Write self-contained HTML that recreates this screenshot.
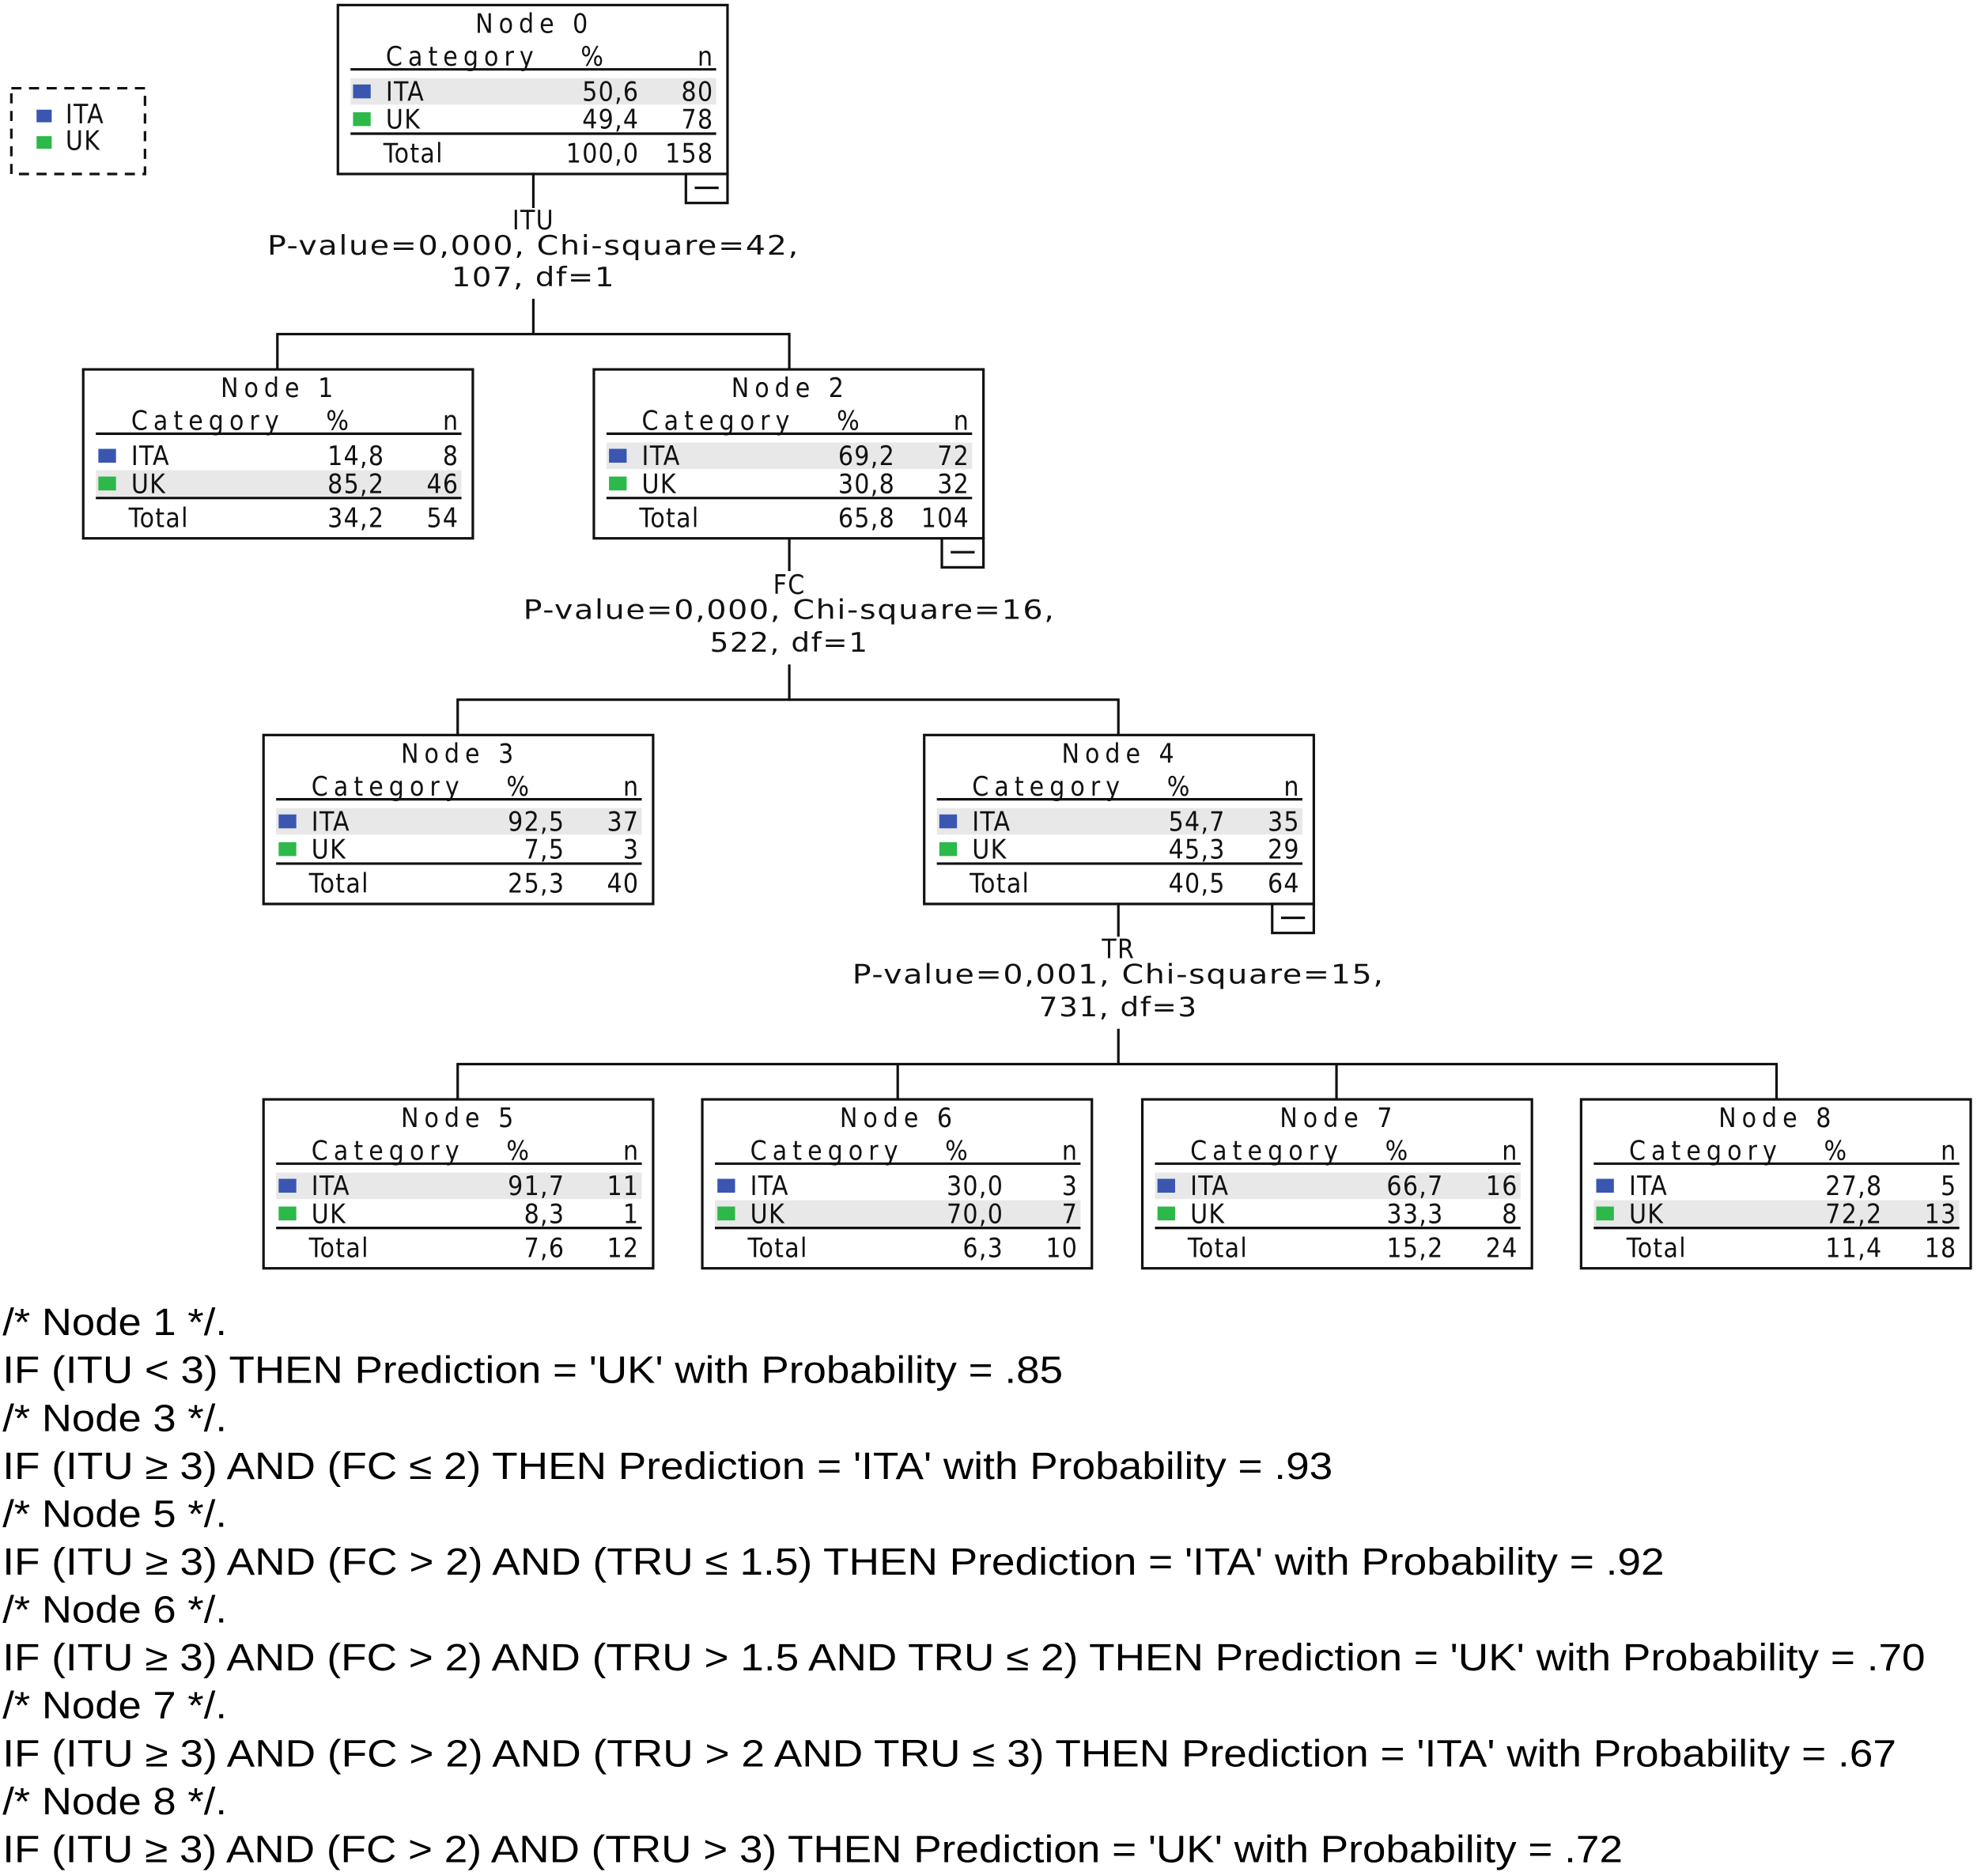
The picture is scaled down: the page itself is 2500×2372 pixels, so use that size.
<!DOCTYPE html>
<html><head><meta charset="utf-8"><style>
html,body{margin:0;padding:0;background:#fff;}
svg{display:block;}
.t{font-family:"DejaVu Sans Condensed","Liberation Sans",sans-serif;font-size:21px;fill:#111;letter-spacing:0.8px;}
.r{font-family:"Liberation Sans",Arial,sans-serif;font-size:30px;fill:#000;}
</style></head><body>
<svg width="2500" height="2372" viewBox="0 0 1568 1488" preserveAspectRatio="none" xmlns="http://www.w3.org/2000/svg">
<defs>
<g id="frame">
<rect x="0" y="0" width="309" height="134" fill="none" stroke="#111" stroke-width="2"/>
<line x1="10" y1="51" x2="300" y2="51" stroke="#111" stroke-width="2"/>
<line x1="10" y1="102" x2="300" y2="102" stroke="#111" stroke-width="2"/>
<rect x="12" y="63" width="14" height="11" fill="#3a56b0"/>
<rect x="12" y="85" width="14" height="11" fill="#2db84a"/>
</g>
<g id="minus">
<rect x="276" y="134" width="33" height="23" fill="#fff" stroke="#111" stroke-width="2"/>
<line x1="283" y1="145" x2="302" y2="145" stroke="#111" stroke-width="2"/>
</g>
</defs>

<!-- legend -->
<rect x="9" y="70" width="106" height="68" fill="none" stroke="#111" stroke-width="2" stroke-dasharray="8,6"/>
<rect x="29" y="87" width="12" height="10" fill="#3a56b0"/>
<rect x="29" y="108" width="12" height="10" fill="#2db84a"/>
<text class="t" x="52" y="98">ITA</text>
<text class="t" x="52" y="119">UK</text>

<!-- connectors -->
<g stroke="#111" stroke-width="2" fill="none">
<line x1="423" y1="137" x2="423" y2="165"/>
<polyline points="423,237 423,265 220,265 220,293"/>
<polyline points="423,265 626,265 626,293"/>
<line x1="626" y1="427" x2="626" y2="453"/>
<polyline points="626,527 626,555 363,555 363,583"/>
<polyline points="626,555 887,555 887,583"/>
<line x1="887" y1="716" x2="887" y2="743"/>
<polyline points="887,816 887,844 363,844 363,872"/>
<polyline points="712,844 712,872"/>
<polyline points="887,844 1409,844 1409,872"/>
<polyline points="1060,844 1060,872"/>
</g>

<!-- split labels -->
<g class="t" text-anchor="middle">
<text x="423" y="182">ITU</text>
<text x="423" y="202" textLength="422" lengthAdjust="spacingAndGlyphs">P-value=0,000, Chi-square=42,</text>
<text x="423" y="227" textLength="130" lengthAdjust="spacingAndGlyphs">107, df=1</text>
<text x="626" y="471">FC</text>
<text x="626" y="491" textLength="422" lengthAdjust="spacingAndGlyphs">P-value=0,000, Chi-square=16,</text>
<text x="626" y="517" textLength="126" lengthAdjust="spacingAndGlyphs">522, df=1</text>
<text x="887" y="760">TR</text>
<text x="887" y="780" textLength="422" lengthAdjust="spacingAndGlyphs">P-value=0,001, Chi-square=15,</text>
<text x="887" y="806" textLength="126" lengthAdjust="spacingAndGlyphs">731, df=3</text>
</g>

<!-- Node 0 -->
<g transform="translate(268,4)">
<rect x="10" y="58" width="290" height="21" fill="#e8e8e8"/>
<use href="#frame"/><use href="#minus"/>
<g class="t">
<text x="154" y="22" text-anchor="middle" textLength="90">Node 0</text>
<text x="38" y="48" textLength="118">Category</text><text x="202" y="48" text-anchor="middle">%</text><text x="298" y="48" text-anchor="end">n</text>
<text x="38" y="76">ITA</text><text x="239" y="76" text-anchor="end">50,6</text><text x="298" y="76" text-anchor="end">80</text>
<text x="38" y="98">UK</text><text x="239" y="98" text-anchor="end">49,4</text><text x="298" y="98" text-anchor="end">78</text>
<text x="36" y="125">Total</text><text x="239" y="125" text-anchor="end">100,0</text><text x="298" y="125" text-anchor="end">158</text>
</g></g>

<!-- Node 1 -->
<g transform="translate(66,293)">
<rect x="10" y="80" width="290" height="21" fill="#e8e8e8"/>
<use href="#frame"/>
<g class="t">
<text x="154" y="22" text-anchor="middle" textLength="90">Node 1</text>
<text x="38" y="48" textLength="118">Category</text><text x="202" y="48" text-anchor="middle">%</text><text x="298" y="48" text-anchor="end">n</text>
<text x="38" y="76">ITA</text><text x="239" y="76" text-anchor="end">14,8</text><text x="298" y="76" text-anchor="end">8</text>
<text x="38" y="98">UK</text><text x="239" y="98" text-anchor="end">85,2</text><text x="298" y="98" text-anchor="end">46</text>
<text x="36" y="125">Total</text><text x="239" y="125" text-anchor="end">34,2</text><text x="298" y="125" text-anchor="end">54</text>
</g></g>

<!-- Node 2 -->
<g transform="translate(471,293)">
<rect x="10" y="58" width="290" height="21" fill="#e8e8e8"/>
<use href="#frame"/><use href="#minus"/>
<g class="t">
<text x="154" y="22" text-anchor="middle" textLength="90">Node 2</text>
<text x="38" y="48" textLength="118">Category</text><text x="202" y="48" text-anchor="middle">%</text><text x="298" y="48" text-anchor="end">n</text>
<text x="38" y="76">ITA</text><text x="239" y="76" text-anchor="end">69,2</text><text x="298" y="76" text-anchor="end">72</text>
<text x="38" y="98">UK</text><text x="239" y="98" text-anchor="end">30,8</text><text x="298" y="98" text-anchor="end">32</text>
<text x="36" y="125">Total</text><text x="239" y="125" text-anchor="end">65,8</text><text x="298" y="125" text-anchor="end">104</text>
</g></g>

<!-- Node 3 -->
<g transform="translate(209,583)">
<rect x="10" y="58" width="290" height="21" fill="#e8e8e8"/>
<use href="#frame"/>
<g class="t">
<text x="154" y="22" text-anchor="middle" textLength="90">Node 3</text>
<text x="38" y="48" textLength="118">Category</text><text x="202" y="48" text-anchor="middle">%</text><text x="298" y="48" text-anchor="end">n</text>
<text x="38" y="76">ITA</text><text x="239" y="76" text-anchor="end">92,5</text><text x="298" y="76" text-anchor="end">37</text>
<text x="38" y="98">UK</text><text x="239" y="98" text-anchor="end">7,5</text><text x="298" y="98" text-anchor="end">3</text>
<text x="36" y="125">Total</text><text x="239" y="125" text-anchor="end">25,3</text><text x="298" y="125" text-anchor="end">40</text>
</g></g>

<!-- Node 4 -->
<g transform="translate(733,583)">
<rect x="10" y="58" width="290" height="21" fill="#e8e8e8"/>
<use href="#frame"/><use href="#minus"/>
<g class="t">
<text x="154" y="22" text-anchor="middle" textLength="90">Node 4</text>
<text x="38" y="48" textLength="118">Category</text><text x="202" y="48" text-anchor="middle">%</text><text x="298" y="48" text-anchor="end">n</text>
<text x="38" y="76">ITA</text><text x="239" y="76" text-anchor="end">54,7</text><text x="298" y="76" text-anchor="end">35</text>
<text x="38" y="98">UK</text><text x="239" y="98" text-anchor="end">45,3</text><text x="298" y="98" text-anchor="end">29</text>
<text x="36" y="125">Total</text><text x="239" y="125" text-anchor="end">40,5</text><text x="298" y="125" text-anchor="end">64</text>
</g></g>

<!-- Node 5 -->
<g transform="translate(209,872)">
<rect x="10" y="58" width="290" height="21" fill="#e8e8e8"/>
<use href="#frame"/>
<g class="t">
<text x="154" y="22" text-anchor="middle" textLength="90">Node 5</text>
<text x="38" y="48" textLength="118">Category</text><text x="202" y="48" text-anchor="middle">%</text><text x="298" y="48" text-anchor="end">n</text>
<text x="38" y="76">ITA</text><text x="239" y="76" text-anchor="end">91,7</text><text x="298" y="76" text-anchor="end">11</text>
<text x="38" y="98">UK</text><text x="239" y="98" text-anchor="end">8,3</text><text x="298" y="98" text-anchor="end">1</text>
<text x="36" y="125">Total</text><text x="239" y="125" text-anchor="end">7,6</text><text x="298" y="125" text-anchor="end">12</text>
</g></g>

<!-- Node 6 -->
<g transform="translate(557,872)">
<rect x="10" y="80" width="290" height="21" fill="#e8e8e8"/>
<use href="#frame"/>
<g class="t">
<text x="154" y="22" text-anchor="middle" textLength="90">Node 6</text>
<text x="38" y="48" textLength="118">Category</text><text x="202" y="48" text-anchor="middle">%</text><text x="298" y="48" text-anchor="end">n</text>
<text x="38" y="76">ITA</text><text x="239" y="76" text-anchor="end">30,0</text><text x="298" y="76" text-anchor="end">3</text>
<text x="38" y="98">UK</text><text x="239" y="98" text-anchor="end">70,0</text><text x="298" y="98" text-anchor="end">7</text>
<text x="36" y="125">Total</text><text x="239" y="125" text-anchor="end">6,3</text><text x="298" y="125" text-anchor="end">10</text>
</g></g>

<!-- Node 7 -->
<g transform="translate(906,872)">
<rect x="10" y="58" width="290" height="21" fill="#e8e8e8"/>
<use href="#frame"/>
<g class="t">
<text x="154" y="22" text-anchor="middle" textLength="90">Node 7</text>
<text x="38" y="48" textLength="118">Category</text><text x="202" y="48" text-anchor="middle">%</text><text x="298" y="48" text-anchor="end">n</text>
<text x="38" y="76">ITA</text><text x="239" y="76" text-anchor="end">66,7</text><text x="298" y="76" text-anchor="end">16</text>
<text x="38" y="98">UK</text><text x="239" y="98" text-anchor="end">33,3</text><text x="298" y="98" text-anchor="end">8</text>
<text x="36" y="125">Total</text><text x="239" y="125" text-anchor="end">15,2</text><text x="298" y="125" text-anchor="end">24</text>
</g></g>

<!-- Node 8 -->
<g transform="translate(1254,872)">
<rect x="10" y="80" width="290" height="21" fill="#e8e8e8"/>
<use href="#frame"/>
<g class="t">
<text x="154" y="22" text-anchor="middle" textLength="90">Node 8</text>
<text x="38" y="48" textLength="118">Category</text><text x="202" y="48" text-anchor="middle">%</text><text x="298" y="48" text-anchor="end">n</text>
<text x="38" y="76">ITA</text><text x="239" y="76" text-anchor="end">27,8</text><text x="298" y="76" text-anchor="end">5</text>
<text x="38" y="98">UK</text><text x="239" y="98" text-anchor="end">72,2</text><text x="298" y="98" text-anchor="end">13</text>
<text x="36" y="125">Total</text><text x="239" y="125" text-anchor="end">11,4</text><text x="298" y="125" text-anchor="end">18</text>
</g></g>

<!-- rules text -->
<g class="r">
<text x="2" y="1059" textLength="178" lengthAdjust="spacingAndGlyphs">/* Node 1 */.</text>
<text x="2" y="1097" textLength="841" lengthAdjust="spacingAndGlyphs">IF (ITU &lt; 3) THEN Prediction = 'UK' with Probability = .85</text>
<text x="2" y="1135" textLength="178" lengthAdjust="spacingAndGlyphs">/* Node 3 */.</text>
<text x="2" y="1173" textLength="1055" lengthAdjust="spacingAndGlyphs">IF (ITU ≥ 3) AND (FC ≤ 2) THEN Prediction = 'ITA' with Probability = .93</text>
<text x="2" y="1211" textLength="178" lengthAdjust="spacingAndGlyphs">/* Node 5 */.</text>
<text x="2" y="1249" textLength="1318" lengthAdjust="spacingAndGlyphs">IF (ITU ≥ 3) AND (FC &gt; 2) AND (TRU ≤ 1.5) THEN Prediction = 'ITA' with Probability = .92</text>
<text x="2" y="1287" textLength="178" lengthAdjust="spacingAndGlyphs">/* Node 6 */.</text>
<text x="2" y="1325" textLength="1525" lengthAdjust="spacingAndGlyphs">IF (ITU ≥ 3) AND (FC &gt; 2) AND (TRU &gt; 1.5 AND TRU ≤ 2) THEN Prediction = 'UK' with Probability = .70</text>
<text x="2" y="1363" textLength="178" lengthAdjust="spacingAndGlyphs">/* Node 7 */.</text>
<text x="2" y="1401" textLength="1502" lengthAdjust="spacingAndGlyphs">IF (ITU ≥ 3) AND (FC &gt; 2) AND (TRU &gt; 2 AND TRU ≤ 3) THEN Prediction = 'ITA' with Probability = .67</text>
<text x="2" y="1439" textLength="178" lengthAdjust="spacingAndGlyphs">/* Node 8 */.</text>
<text x="2" y="1477" textLength="1285" lengthAdjust="spacingAndGlyphs">IF (ITU ≥ 3) AND (FC &gt; 2) AND (TRU &gt; 3) THEN Prediction = 'UK' with Probability = .72</text>
</g>
</svg>
</body></html>
